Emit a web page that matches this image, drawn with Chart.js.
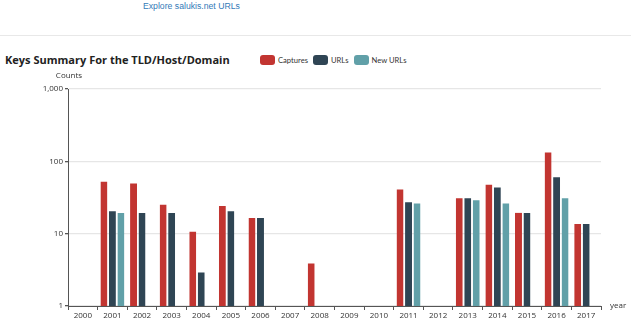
<!DOCTYPE html>
<html><head><meta charset="utf-8">
<script src="https://cdn.jsdelivr.net/npm/chart.js@4/dist/chart.umd.min.js"></script>
<style>
html,body{margin:0;padding:0;background:#fff;width:631px;height:324px;overflow:hidden;font-family:"Open Sans",sans-serif;}
#explore{position:absolute;left:143px;top:1px;font-family:"Liberation Sans",Arial,sans-serif;font-size:9px;color:#337ab7;white-space:nowrap;}
#rule{position:absolute;left:0;top:35px;width:631px;height:1px;background:#e8e8e8;}
#title{position:absolute;left:5px;top:52px;font-family:"Open Sans",sans-serif;font-weight:bold;font-size:11px;color:#222;white-space:nowrap;}
#legend{position:absolute;left:260px;top:55px;font-family:Lato,"Open Sans",sans-serif;font-size:8px;color:#333;display:flex;align-items:center;white-space:nowrap;height:10px;}
#legend span.item{display:flex;align-items:center;margin-right:5px;}
#legend span.box{display:inline-block;width:15px;height:10px;border-radius:3px;margin-right:3px;}
#wrap{position:absolute;left:0;top:70px;width:631px;height:254px;}
</style></head>
<body>
<div id="explore">Explore salukis.net URLs</div>
<div id="rule"></div>
<div id="title">Keys Summary For the TLD/Host/Domain</div>
<div id="legend"></div>
<div id="wrap"><canvas id="c"></canvas></div>
<script>
const years = ['2000','2001','2002','2003','2004','2005','2006','2007','2008','2009','2010','2011','2012','2013','2014','2015','2016','2017'];
const captures = [null,54,51,26,11,25,17,null,4,null,null,42,null,32,49,20,137,14];
const urls     = [null,21,20,20,3,21,17,null,null,null,null,28,null,32,45,20,62,14];
const newUrls  = [null,20,null,null,null,null,null,null,null,null,null,27,null,30,27,null,32,null];
const yTicks = [1,10,100,1000];
const seriesNames = ['Captures','URLs','New URLs'];
const colors = ['#c23531','#2f4554','#61a0a8'];

const leg = document.getElementById('legend');
const labelEls=[];
seriesNames.forEach((n,i)=>{
  const s=document.createElement('span');s.className='item';
  s.innerHTML='<span class="box" style="background:'+colors[i]+'"></span>';
  const t=document.createElement('span');t.textContent=n;s.appendChild(t);labelEls.push(t);
  leg.appendChild(s);
});

function fit(el, target){
  const w = el.getBoundingClientRect().width;
  const fs = parseFloat(getComputedStyle(el).fontSize);
  if (w>0) el.style.fontSize = (fs*target/w)+'px';
}
fit(document.getElementById('title'),225);
fit(document.getElementById('explore'),97);
const fsBefore = parseFloat(getComputedStyle(labelEls[0]).fontSize);
const w0 = labelEls[0].getBoundingClientRect().width;
leg.style.fontSize = (fsBefore*30/w0)+'px';

const extraLabels = {
  id:'extraLabels',
  afterDraw(chart){
    const ctx=chart.ctx, a=chart.chartArea;
    ctx.save();
    ctx.fillStyle='#333';
    ctx.font='8px "Open Sans"';
    ctx.textAlign='center';ctx.textBaseline='middle';
    ctx.fillText('Counts', a.left+1, a.top-13);
    ctx.textAlign='left';
    ctx.fillText('year', a.right+9, a.bottom);
    ctx.restore();
  }
};

const ds = [captures,urls,newUrls].map((d,i)=>({
  label:seriesNames[i], data:d, backgroundColor:colors[i],
  borderColor:'rgba(255,255,255,0.3)', borderWidth:{top:1,left:0,right:0,bottom:0},
  categoryPercentage:0.86, barPercentage:0.82
}));

new Chart(document.getElementById('c'),{
  type:'bar',
  data:{labels:years,datasets:ds},
  options:{
    responsive:true,maintainAspectRatio:false,animation:false,
    layout:{padding:{top:19,right:30,left:0,bottom:0}},
    plugins:{legend:{display:false},tooltip:{enabled:false}},
    scales:{
      x:{
        grid:{display:true,drawOnChartArea:false,offset:true,tickLength:4,color:'#555'},
        border:{display:true,color:'#555'},
        ticks:{color:'#333',font:{family:'"Open Sans"',size:8},padding:1,maxRotation:0,autoSkip:false},
        afterFit(s){s.height=18;}
      },
      y:{
        type:'logarithmic',min:1,max:1000,
        afterBuildTicks(s){s.ticks=yTicks.map(v=>({value:v}));},
        grid:{color:'#e6e6e6',lineWidth:1.3,tickLength:3,drawTicks:true,tickColor:'#555'},
        border:{display:true,color:'#555'},
        ticks:{color:'#333',font:{family:'"Open Sans"',size:8},padding:2,
          callback:(v)=>Number(v).toLocaleString('en-US')},
        afterFit(s){s.width=68;}
      }
    }
  },
  plugins:[extraLabels]
});
</script>
</body></html>
